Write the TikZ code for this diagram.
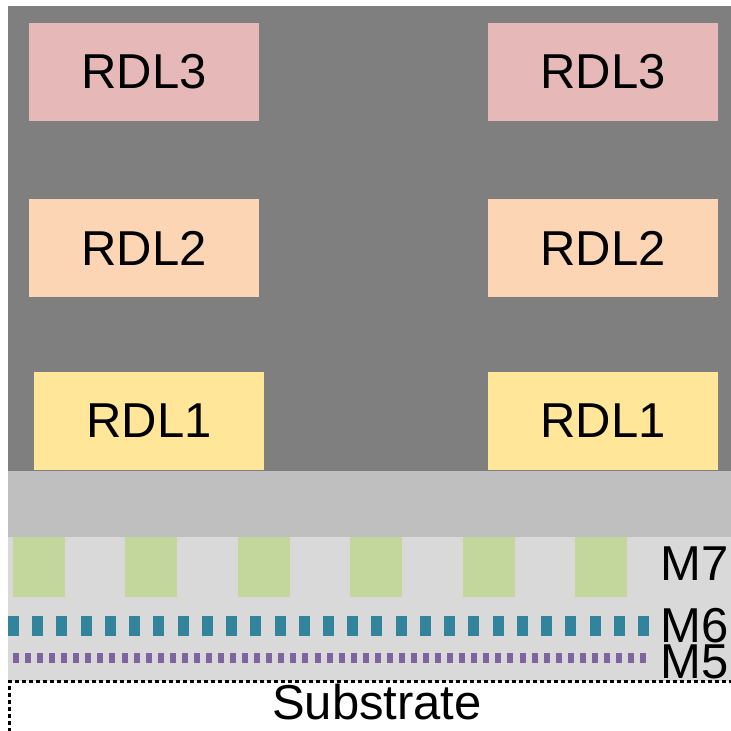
\documentclass[tikz,border=0pt]{standalone}
\usepackage{fontspec}
\setmainfont{Liberation Sans}
\usepackage{tikz}
\usetikzlibrary{
    positioning,
    calc
}
\usepackage{xcolor}
\definecolor{molddark}{HTML}{7F7F7F}
\definecolor{passgray}{HTML}{BFBFBF}
\definecolor{beolgray}{HTML}{D9D9D9}
\definecolor{rdlthree}{HTML}{E6B9B8}
\definecolor{rdltwo}{HTML}{FCD5B5}
\definecolor{rdlone}{HTML}{FFE699}
\definecolor{metalseven}{HTML}{C3D69B}
\definecolor{metalsix}{HTML}{31849B}
\definecolor{metalfive}{HTML}{8064A2}
\tikzstyle{rdl} = [
    rectangle,
    draw=none,
    minimum width=230pt,
    minimum height=98pt,
    inner sep=0pt,
    text centered,
    font=\fontsize{49}{52}\selectfont
]
\tikzstyle{layerlabel} = [
    anchor=base,
    inner sep=0pt,
    font=\fontsize{49}{52}\selectfont
]
\begin{document}
\begin{tikzpicture}[x=1pt, y=-1pt]
        \clip (0,0) rectangle (731,731);
        \useasboundingbox (0,0) rectangle (731,731);

        % Mold and back-end layers
        \fill[molddark] (8,6) rectangle (731,471);
        \fill[passgray] (8,471) rectangle (731,537);
        \fill[beolgray] (8,537) rectangle (731,681);

        % Redistribution layers
        \node[rdl, fill=rdlthree] (rdl3left) at (144,72) {RDL3};
        \node[rdl, fill=rdlthree] (rdl3right) at (603,72) {RDL3};
        \node[rdl, fill=rdltwo] (rdl2left) at (144,248) {RDL2};
        \node[rdl, fill=rdltwo] (rdl2right) at (603,248) {RDL2};
        \node[rdl, fill=rdlone] (rdl1left) at (149,421) {RDL1};
        \node[rdl, fill=rdlone] (rdl1right) at (603,421) {RDL1};

        % Metal lines
        \foreach \i in {0,...,5}
            \fill[metalseven] ({13+112.4*\i},537) rectangle ++(52,60);
        \foreach \i in {0,...,26}
            \fill[metalsix] ({8+24.23*\i},616) rectangle ++(11,20);
        \foreach \i in {0,...,52}
            \fill[metalfive] ({13+12.06*\i},653) rectangle ++(6,10);

        % Labels
        \node[layerlabel] (m7) at (695,580) {M7};
        \node[layerlabel] (m6) at (695,642) {M6};
        \node[layerlabel] (m5) at (695,678) {M5};

        % Substrate
        \draw[black, line width=3pt, dash pattern=on 4pt off 3pt] (9,760) -- (9,681.5) -- (740,681.5);
        \node[anchor=base, inner sep=0pt, font=\fontsize{49}{52}\selectfont] (substrate) at (377,719) {Substrate};
    \end{tikzpicture}
\end{document}
